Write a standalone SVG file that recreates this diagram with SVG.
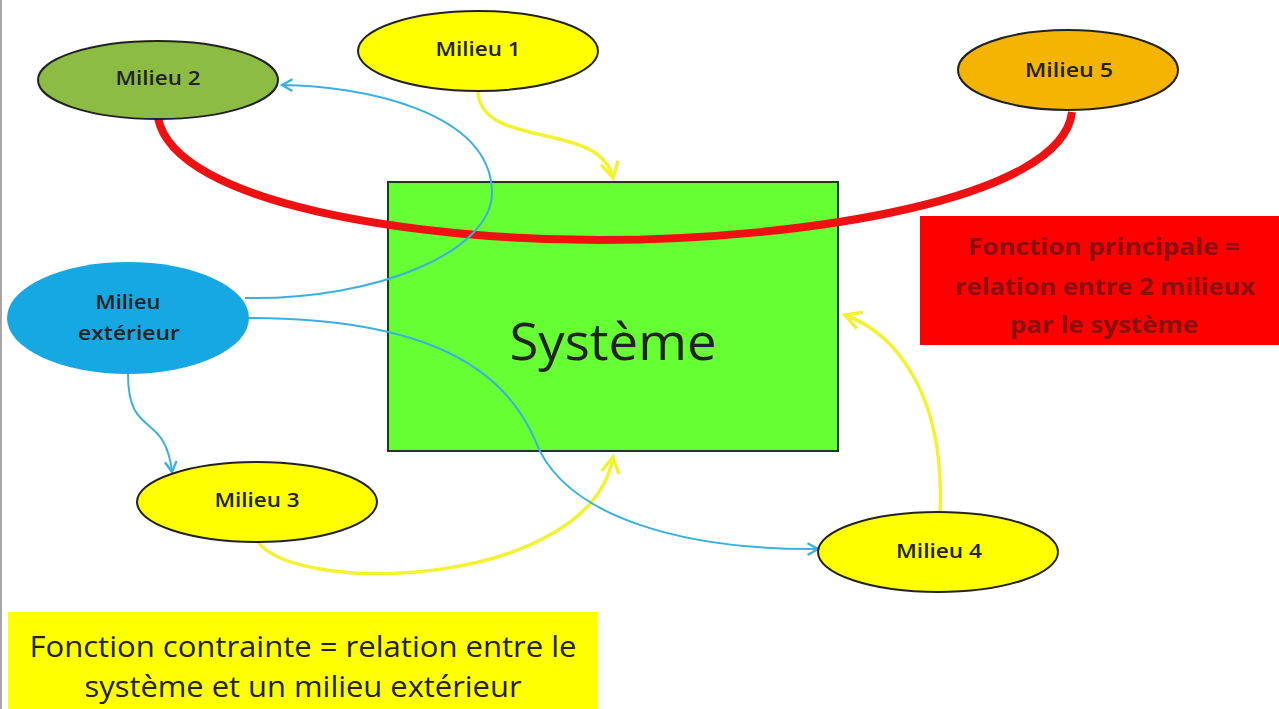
<svg xmlns="http://www.w3.org/2000/svg" width="1279" height="709" viewBox="0 0 1279 709">
<defs>
<style>
.node{stroke:#222;stroke-width:2}
.lbl{font-family:"Open Sans","Noto Sans",sans-serif;fill:#222;text-anchor:middle}
.small{font-size:20px;font-weight:600}
.red{font-size:24px;font-weight:700;fill:#8a1010}
.big{font-size:30px;font-weight:500}
.yel{fill:none;stroke:#f2f230;stroke-width:3.5}
.blu{fill:none;stroke:#3ab0e0;stroke-width:2}
</style>
<marker id="ay" viewBox="0 0 12 12" refX="10" refY="6" markerWidth="6" markerHeight="6" orient="auto" markerUnits="strokeWidth">
<path d="M1,1 L10,6 L1,11" fill="none" stroke="#f2f230" stroke-width="2"/>
</marker>
<marker id="ab" viewBox="0 0 12 12" refX="10" refY="6" markerWidth="7" markerHeight="7" orient="auto" markerUnits="strokeWidth">
<path d="M1,1 L10,6 L1,11" fill="none" stroke="#3ab0e0" stroke-width="2"/>
</marker>
</defs>
<rect width="1279" height="709" fill="#ffffff"/>
<line x1="1" y1="0" x2="1" y2="709" stroke="#888" stroke-width="1.5"/>

<g id="systeme">
<rect x="388" y="182" width="450" height="269" fill="#66ff33" stroke="#1e3a1e" stroke-width="2"/>
<text class="lbl" x="613" y="360" font-size="52" fill="#111" textLength="207" lengthAdjust="spacingAndGlyphs">Système</text>
</g>

<g id="connectors">
<path d="M158,118 C175,205 420,240 600,240 C800,240 1062,200 1072,112" fill="none" stroke="#ee1111" stroke-width="8"/>
<path class="yel" d="M478,92 C482,150 600,120 613,178" marker-end="url(#ay)"/>
<path class="yel" d="M258,542 C300,597 590,587 613,457" marker-end="url(#ay)"/>
<path class="yel" d="M940,512 C945,400 900,335 845,315" marker-end="url(#ay)"/>
<path class="blu" d="M245,298 C380,300 495,250 492,190 C488,110 360,86 282,85" marker-end="url(#ab)"/>
<path class="blu" d="M248,318 C430,318 505,370 535,440 C565,520 690,550 818,549" marker-end="url(#ab)"/>
<path class="blu" d="M128,374 C128,440 165,410 172,472" marker-end="url(#ab)"/>
</g>

<g id="milieu1">
<ellipse class="node" cx="478" cy="51" rx="120" ry="40" fill="#ffff00"/>
<text class="lbl small" x="478" y="56" textLength="85" lengthAdjust="spacingAndGlyphs">Milieu 1</text>
</g>
<g id="milieu2">
<ellipse class="node" cx="158" cy="80" rx="120" ry="39" fill="#8cbc44"/>
<text class="lbl small" x="158" y="85" textLength="85" lengthAdjust="spacingAndGlyphs">Milieu 2</text>
</g>
<g id="milieu5">
<ellipse class="node" cx="1068" cy="70" rx="110" ry="40" fill="#f4b400"/>
<text class="lbl small" x="1069" y="77" textLength="88" lengthAdjust="spacingAndGlyphs">Milieu 5</text>
</g>
<g id="milieu-exterieur">
<ellipse cx="128" cy="318" rx="121" ry="56" fill="#16a8e2"/>
<text class="lbl small" x="128" y="309" textLength="65" lengthAdjust="spacingAndGlyphs">Milieu</text>
<text class="lbl small" x="129" y="340" textLength="102" lengthAdjust="spacingAndGlyphs">extérieur</text>
</g>
<g id="milieu3">
<ellipse class="node" cx="257" cy="502" rx="120" ry="40" fill="#ffff00"/>
<text class="lbl small" x="257" y="507" textLength="85" lengthAdjust="spacingAndGlyphs">Milieu 3</text>
</g>
<g id="milieu4">
<ellipse class="node" cx="938" cy="552" rx="120" ry="40" fill="#ffff00"/>
<text class="lbl small" x="939" y="558" textLength="86" lengthAdjust="spacingAndGlyphs">Milieu 4</text>
</g>

<g id="fonction-principale">
<rect x="920" y="216" width="359" height="129" fill="#ff0000"/>
<text class="lbl red" x="1104" y="255" textLength="272" lengthAdjust="spacingAndGlyphs">Fonction principale =</text>
<text class="lbl red" x="1105" y="295" textLength="300" lengthAdjust="spacingAndGlyphs">relation entre 2 milieux</text>
<text class="lbl red" x="1104" y="333" textLength="188" lengthAdjust="spacingAndGlyphs">par le système</text>
</g>

<g id="fonction-contrainte">
<rect x="8" y="612" width="590" height="97" fill="#ffff00"/>
<text class="lbl big" x="303" y="657" textLength="547" lengthAdjust="spacingAndGlyphs">Fonction contrainte = relation entre le</text>
<text class="lbl big" x="303" y="697" textLength="437" lengthAdjust="spacingAndGlyphs">système et un milieu extérieur</text>
</g>
</svg>
